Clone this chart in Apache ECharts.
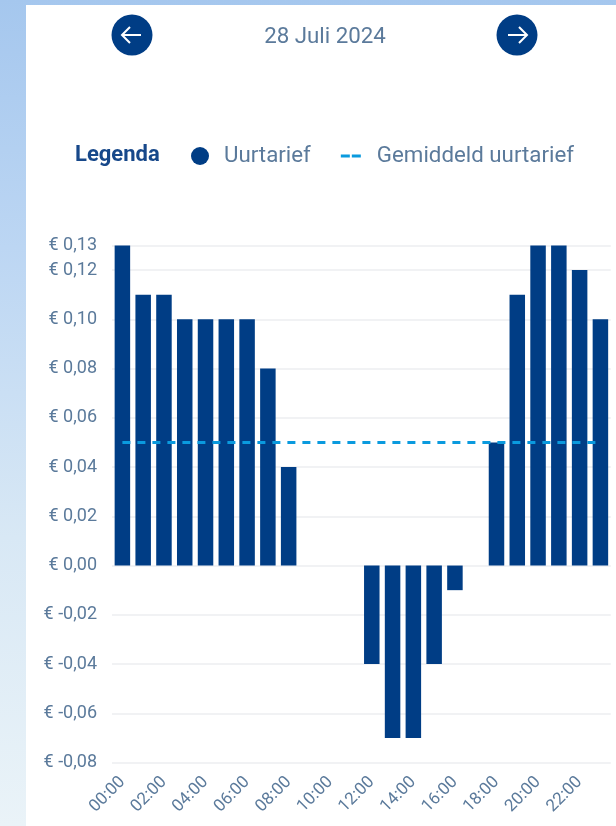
<!DOCTYPE html>
<html><head><meta charset="utf-8">
<style>
html,body{margin:0;padding:0;width:616px;height:826px;overflow:hidden}
body{background:linear-gradient(180deg,#a5c7ee 0%,#bcd6f3 30%,#d8e8f5 65%,#eaf3f8 100%)}
#panel{position:absolute;left:26px;top:5px;width:590px;height:821px;background:#fff}
#c{position:absolute;left:0;top:0;width:616px;height:826px;filter:blur(0.4px)}
</style>
<script src="https://cdn.jsdelivr.net/npm/echarts@6/dist/echarts.min.js"></script>
</head><body>
<div id="panel"></div><div id="c"></div>
<script>
const hours = ['00:00','01:00','02:00','03:00','04:00','05:00','06:00','07:00','08:00','09:00','10:00','11:00','12:00','13:00','14:00','15:00','16:00','17:00','18:00','19:00','20:00','21:00','22:00','23:00'];
const hourlyRate = [0.13,0.11,0.11,0.10,0.10,0.10,0.10,0.08,0.04,0,0,0,-0.04,-0.07,-0.07,-0.04,-0.01,0,0.05,0.11,0.13,0.13,0.12,0.10];
const averageRate = [0.05,0.05,0.05,0.05,0.05,0.05,0.05,0.05,0.05,0.05,0.05,0.05,0.05,0.05,0.05,0.05,0.05,0.05,0.05,0.05,0.05,0.05,0.05,0.05];
const dateLabel = '28 Juli 2024';
const legendTitle = 'Legenda';
const barName = 'Uurtarief';
const lineName = 'Gemiddeld uurtarief';

const navy = '#003d85', grey = '#5b7a9b', font = 'Roboto';
const chart = echarts.init(document.getElementById('c'), null, {renderer:'canvas'});

function button(cx, d) {
  return {type:'group', x:cx, y:35, children:[
    {type:'circle', shape:{cx:0,cy:0,r:20.5}, style:{fill:navy}},
    {type:'polyline', shape:{points:[[-9*d,0],[9*d,0]]}, style:{stroke:'#fff',lineWidth:2,fill:null}},
    {type:'polyline', shape:{points:[[2*d,-8],[10*d,0],[2*d,8]]}, style:{stroke:'#fff',lineWidth:2,fill:null}}
  ]};
}

chart.setOption({
  animation:false,
  textStyle:{fontFamily:font},
  grid:{left:112, right:5.2, top:245.5, bottom:63.5},
  legend:{
    left:186, top:140, itemGap:30, selectedMode:false, itemWidth:20, itemHeight:18,
    data:[
      {name:barName, icon:'circle', textStyle:{padding:[0,0,0,9]}},
      {name:lineName, icon:'path://M0 0L0 0M0 7.5H9V10.5H0ZM11 7.5H20V10.5H11ZM20 18L20 18', textStyle:{padding:[0,0,0,11]}}
    ],
    textStyle:{color:grey,fontSize:22.3,fontFamily:font}
  },
  graphic:[
    button(132,-1), button(517,1),
    {type:'text', x:325, y:37, style:{text:dateLabel,fill:grey,font:'22.3px Roboto',align:'center',verticalAlign:'middle'}},
    {type:'text', x:75, y:155, style:{text:legendTitle,fill:'#17488a',font:'bold 22px Roboto',align:'left',verticalAlign:'middle'}}
  ],
  xAxis:{
    type:'category', data:hours,
    axisLine:{show:false,onZero:false}, axisTick:{show:false}, splitLine:{show:false},
    axisLabel:{interval:1,rotate:45,color:grey,fontSize:17,margin:17,fontFamily:font}
  },
  yAxis:{
    type:'value', min:-0.08, max:0.13, interval:0.02,
    axisLine:{show:false}, axisTick:{show:false},
    splitLine:{lineStyle:{color:'#eceef0',width:1.5}},
    axisLabel:{color:grey,fontSize:18,margin:15,padding:[2,0,0,0],fontFamily:font,showMaxLabel:true,
      formatter:v=>'€ '+v.toFixed(2).replace('.',',')}
  },
  series:[
    {name:barName,type:'bar',data:hourlyRate,barWidth:15.5,itemStyle:{color:navy},z:2},
    {name:lineName,type:'line',data:averageRate,symbol:'none',z:3,
      itemStyle:{color:'#0a9ade'},
      lineStyle:{color:'#0a9ade',width:3,type:[8,7]}}
  ]
});
</script>
</body></html>
